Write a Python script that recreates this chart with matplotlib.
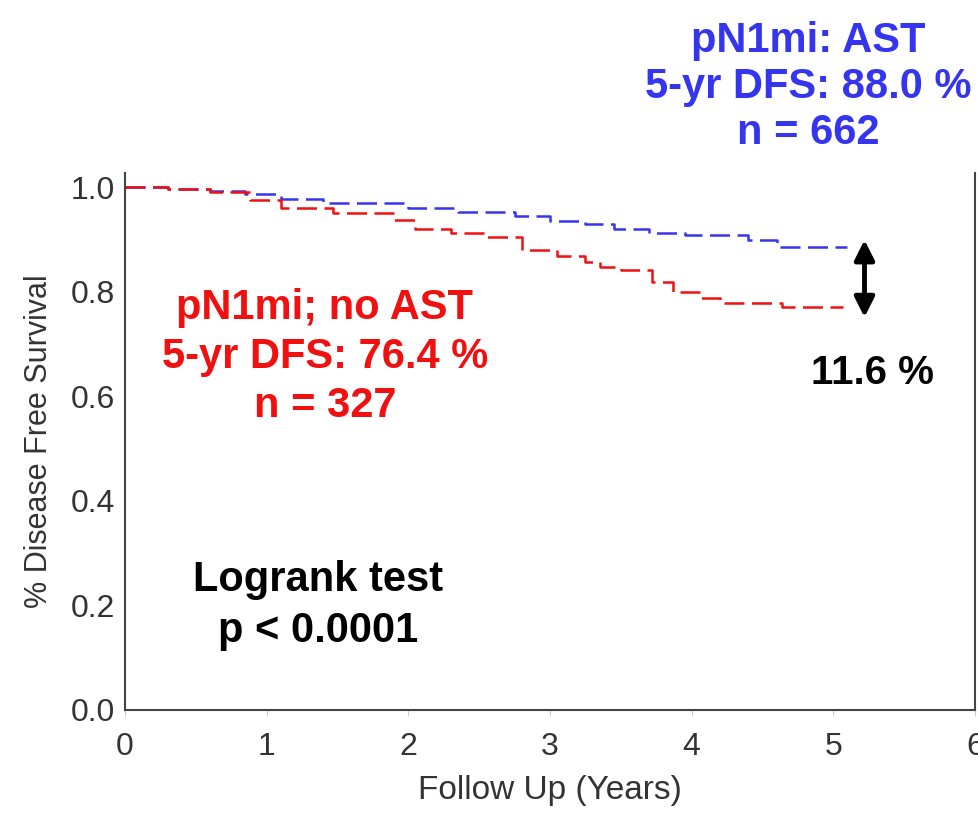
import matplotlib
matplotlib.use('Agg')
import matplotlib.pyplot as plt

plt.rcParams['font.family'] = ['Liberation Sans', 'DejaVu Sans']

# Kaplan-Meier step curves (years, DFS fraction)
t_ast = [0, 0.3, 0.6, 0.85, 1.1, 1.4, 2.0, 2.35, 2.75, 3.0, 3.25, 3.45, 3.7, 3.95, 4.4, 4.6, 5.1]
s_ast = [1.0, 0.996, 0.992, 0.987, 0.977, 0.969, 0.960, 0.952, 0.945, 0.935, 0.930, 0.920,
         0.913, 0.908, 0.898, 0.885, 0.885]

t_no = [0, 0.3, 0.6, 0.88, 1.1, 1.47, 1.9, 2.05, 2.3, 2.55, 2.8, 3.05, 3.25, 3.35, 3.5,
        3.72, 3.87, 4.06, 4.2, 4.64, 5.07]
s_no = [1.0, 0.996, 0.991, 0.975, 0.960, 0.950, 0.937, 0.920, 0.913, 0.904, 0.880, 0.868,
        0.857, 0.847, 0.841, 0.818, 0.800, 0.788, 0.778, 0.770, 0.770]

xticks = [0, 1, 2, 3, 4, 5, 6]
yticks = [0.0, 0.2, 0.4, 0.6, 0.8, 1.0]
ytick_labels = ['0.0', '0.2', '0.4', '0.6', '0.8', '1.0']

lbl_ast = "pN1mi: AST\n5-yr DFS: 88.0 %\nn = 662"
lbl_no = "pN1mi; no AST\n5-yr DFS: 76.4 %\nn = 327"
diff_txt = "11.6 %"
test_txt = "Logrank test\np < 0.0001"

blue = '#3535f0'
red = '#f01010'

fig = plt.figure(figsize=(9.79, 8.14), dpi=100)
ax = fig.add_axes([0.1277, 0.1278, 0.8682, 0.6597])

ax.plot(t_ast, s_ast, drawstyle='steps-post', color=blue, lw=1.8, dashes=(8, 3))
ax.plot(t_no, s_no, drawstyle='steps-post', color=red, lw=1.8, dashes=(8, 3))

ax.set_xlim(0, 6)
ax.set_ylim(0, 1.027)
ax.set_xticks(xticks)
ax.set_yticks(yticks)
ax.set_yticklabels(ytick_labels)
ax.tick_params(axis='both', labelsize=23, colors='#cccccc', labelcolor='#333333', length=4)
ax.tick_params(axis='x', pad=12)
ax.tick_params(axis='y', length=0, pad=7)

for s in ['left', 'bottom', 'right']:
    ax.spines[s].set_color('#444444')
    ax.spines[s].set_linewidth(1.5)
ax.spines['top'].set_visible(False)

ax.set_xlabel('Follow Up (Years)', fontsize=24, color='#333333', labelpad=9)
ax.set_ylabel('% Disease Free Survival', fontsize=22, color='#333333', labelpad=12)

# difference arrow at the end of follow up
ax.annotate('', xy=(5.22, 0.751), xytext=(5.22, 0.899),
            arrowprops=dict(arrowstyle='<|-|>', color='black', lw=3.5, mutation_scale=30,
                            shrinkA=0, shrinkB=0))

ax.text(1.41, 0.675, lbl_no, color=red, fontsize=30, fontweight='bold',
        ha='center', va='center', linespacing=1.3)
ax.text(4.82, 1.191, lbl_ast, color=blue, fontsize=30, fontweight='bold',
        ha='center', va='center', linespacing=1.2, clip_on=False)
ax.text(5.28, 0.644, diff_txt, color='black', fontsize=29, fontweight='bold',
        ha='center', va='center')
ax.text(1.36, 0.199, test_txt, color='black', fontsize=30, fontweight='bold',
        ha='center', va='center', linespacing=1.35)

fig.savefig('out.png', dpi=100)
